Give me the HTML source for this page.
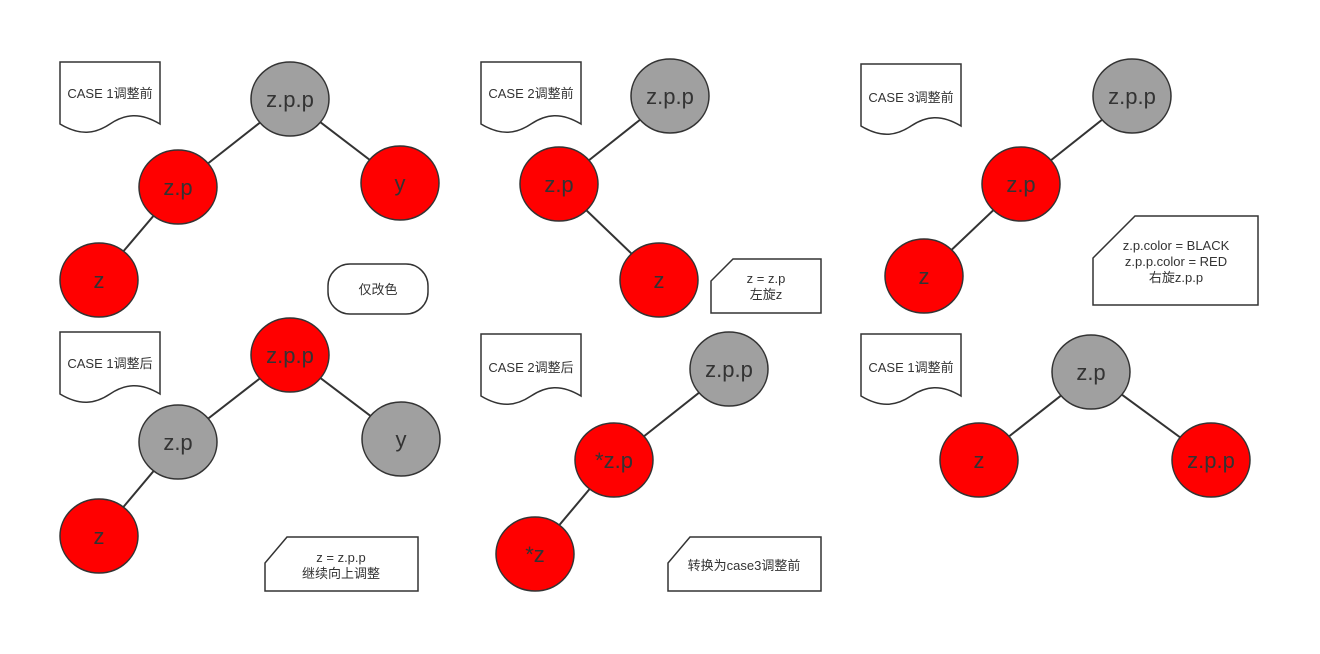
<!DOCTYPE html>
<html><head><meta charset="utf-8"><style>
html,body{margin:0;padding:0;background:#fff}
svg{display:block}
text{font-family:"Liberation Sans","Noto Sans CJK SC",sans-serif;fill:#333}
.n{font-size:22px}
.s{font-size:13px}
</style></head><body>
<svg width="1320" height="654" viewBox="0 0 1320 654" xmlns="http://www.w3.org/2000/svg">
<defs>
<g id="doc"><path d="M0,0 H100 V62 C80,50 65,52 50,62 C35,72 20,74 0,62 Z" fill="#fff" stroke="#333" stroke-width="1.5"/></g>
</defs>
<g stroke="#333" stroke-width="2" fill="none">
<!-- panel1 -->
<line x1="290" y1="99" x2="178" y2="187"/><line x1="290" y1="99" x2="400" y2="183"/><line x1="178" y1="187" x2="99" y2="280"/>
<!-- panel2 -->
<line x1="670" y1="96" x2="559" y2="184"/><line x1="559" y1="184" x2="659" y2="280"/>
<!-- panel3 -->
<line x1="1132" y1="96" x2="1021" y2="184"/><line x1="1021" y1="184" x2="924" y2="276"/>
<!-- panel4 -->
<line x1="290" y1="355" x2="178" y2="442"/><line x1="290" y1="355" x2="401" y2="439"/><line x1="178" y1="442" x2="99" y2="536"/>
<!-- panel5 -->
<line x1="729" y1="369" x2="614" y2="460"/><line x1="614" y1="460" x2="535" y2="554"/>
<!-- panel6 -->
<line x1="1091" y1="372" x2="979" y2="460"/><line x1="1091" y1="372" x2="1211" y2="460"/>
</g>
<g stroke="#333" stroke-width="1.5">
<ellipse cx="290" cy="99" rx="39" ry="37" fill="#a0a0a0"/>
<ellipse cx="178" cy="187" rx="39" ry="37" fill="#f00"/>
<ellipse cx="400" cy="183" rx="39" ry="37" fill="#f00"/>
<ellipse cx="99" cy="280" rx="39" ry="37" fill="#f00"/>
<ellipse cx="670" cy="96" rx="39" ry="37" fill="#a0a0a0"/>
<ellipse cx="559" cy="184" rx="39" ry="37" fill="#f00"/>
<ellipse cx="659" cy="280" rx="39" ry="37" fill="#f00"/>
<ellipse cx="1132" cy="96" rx="39" ry="37" fill="#a0a0a0"/>
<ellipse cx="1021" cy="184" rx="39" ry="37" fill="#f00"/>
<ellipse cx="924" cy="276" rx="39" ry="37" fill="#f00"/>
<ellipse cx="290" cy="355" rx="39" ry="37" fill="#f00"/>
<ellipse cx="178" cy="442" rx="39" ry="37" fill="#a0a0a0"/>
<ellipse cx="401" cy="439" rx="39" ry="37" fill="#a0a0a0"/>
<ellipse cx="99" cy="536" rx="39" ry="37" fill="#f00"/>
<ellipse cx="729" cy="369" rx="39" ry="37" fill="#a0a0a0"/>
<ellipse cx="614" cy="460" rx="39" ry="37" fill="#f00"/>
<ellipse cx="535" cy="554" rx="39" ry="37" fill="#f00"/>
<ellipse cx="1091" cy="372" rx="39" ry="37" fill="#a0a0a0"/>
<ellipse cx="979" cy="460" rx="39" ry="37" fill="#f00"/>
<ellipse cx="1211" cy="460" rx="39" ry="37" fill="#f00"/>
</g>
<g class="n" text-anchor="middle">
<text x="290" y="107">z.p.p</text><text x="178" y="195">z.p</text><text x="400" y="191">y</text><text x="99" y="288">z</text>
<text x="670" y="104">z.p.p</text><text x="559" y="192">z.p</text><text x="659" y="288">z</text>
<text x="1132" y="104">z.p.p</text><text x="1021" y="192">z.p</text><text x="924" y="284">z</text>
<text x="290" y="363">z.p.p</text><text x="178" y="450">z.p</text><text x="401" y="447">y</text><text x="99" y="544">z</text>
<text x="729" y="377">z.p.p</text><text x="614" y="468">*z.p</text><text x="535" y="562">*z</text>
<text x="1091" y="380">z.p</text><text x="979" y="468">z</text><text x="1211" y="468">z.p.p</text>
</g>
<use href="#doc" x="60" y="62"/><use href="#doc" x="481" y="62"/><use href="#doc" x="861" y="64"/>
<use href="#doc" x="60" y="332"/><use href="#doc" x="481" y="334"/><use href="#doc" x="861" y="334"/>
<g class="s" text-anchor="middle">
<text x="110" y="98">CASE 1调整前</text><text x="531" y="98">CASE 2调整前</text><text x="911" y="102">CASE 3调整前</text>
<text x="110" y="368">CASE 1调整后</text><text x="531" y="372">CASE 2调整后</text><text x="911" y="372">CASE 1调整前</text>
</g>
<g fill="#fff" stroke="#333" stroke-width="1.5">
<rect x="328" y="264" width="100" height="50" rx="22"/>
<path d="M733,259 H821 V313 H711 V281 Z"/>
<path d="M1135,216 H1258 V305 H1093 V258 Z"/>
<path d="M287,537 H418 V591 H265 V563 Z"/>
<path d="M690,537 H821 V591 H668 V563 Z"/>
</g>
<g class="s" text-anchor="middle">
<text x="378" y="294">仅改色</text>
<text x="766" y="283">z = z.p</text><text x="766" y="299">左旋z</text>
<text x="1176" y="250">z.p.color = BLACK</text><text x="1176" y="266">z.p.p.color = RED</text><text x="1176" y="282">右旋z.p.p</text>
<text x="341" y="562">z = z.p.p</text><text x="341" y="578">继续向上调整</text>
<text x="744" y="570">转换为case3调整前</text>
</g>
</svg>
</body></html>
